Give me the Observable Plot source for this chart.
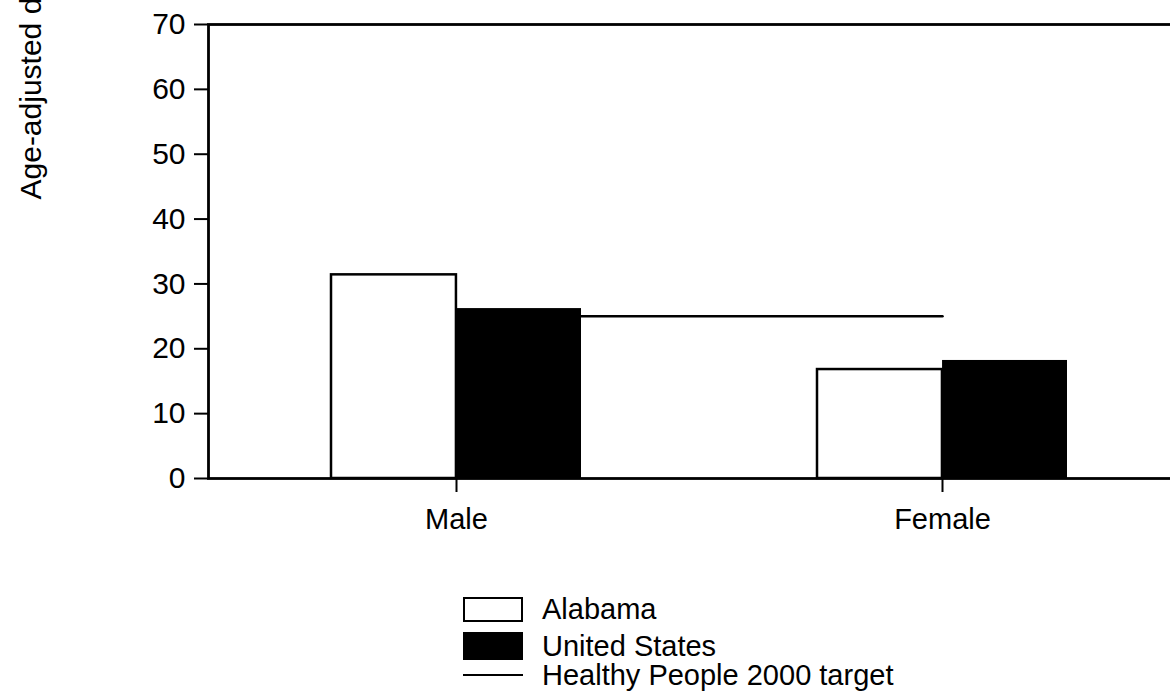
<!DOCTYPE html>
<html>
<head>
<meta charset="utf-8">
<script src="https://cdn.jsdelivr.net/npm/d3@7"></script>
<script src="https://cdn.jsdelivr.net/npm/@observablehq/plot@0.6"></script>
<style>
  html, body { margin: 0; padding: 0; background: #fff; overflow: hidden; width: 1170px; height: 691px; }
  #wrap { position: relative; width: 1170px; height: 691px; overflow: hidden; font-family: "Liberation Sans", Arial, Helvetica, sans-serif; }
  #chart svg { overflow: visible; display: block; max-width: none !important; }
  #legend { position: absolute; left: 463px; top: 0; font-size: 29px; line-height: 1; color: #000; }
  .row { position: absolute; left: 0; display: flex; align-items: center; height: 28px; white-space: nowrap; }
  .row span { line-height: 1; }
  .sw { width: 60px; box-sizing: border-box; margin-right: 19px; flex: none; }
  .sw.al { height: 25px; border: 2.5px solid #000; background: #fff; }
  .sw.us { height: 28px; background: #000; }
  .sw.tg { height: 2.5px; background: #000; }
</style>
</head>
<body>
<div id="wrap">
  <div id="chart"></div>
  <div id="legend"></div>
</div>
<script>
const categories = ["Male", "Female"];
const seriesNames = ["Alabama", "United States", "Healthy People 2000 target"];
const alabama = [31.4, 16.8];
const unitedStates = [26.2, 18.2];
const target = [25, 25];
const yTicks = [0, 10, 20, 30, 40, 50, 60, 70];
const yLabel = "Age-adjusted death rate";

const alabamaRows = categories.map((c, i) => ({sex: c, value: alabama[i]}));
const usRows = categories.map((c, i) => ({sex: c, value: unitedStates[i]}));
const targetRows = categories.map((c, i) => ({sex: c, value: target[i]}));

const W = 1189, H = 575, mL = 208, mR = 0, mT = 24, mB = 97;
const pIn = 0.486, pOut = 0.251;
const step = (W - mL - mR) / (categories.length - pIn + 2 * pOut);
const half = step * (1 - pIn) / 2;
const font = "'Liberation Sans', Arial, Helvetica, sans-serif";

const chart = Plot.plot({
  width: W,
  height: H,
  marginLeft: mL,
  marginRight: mR,
  marginTop: mT,
  marginBottom: mB,
  style: {fontFamily: font, fontSize: "30px", color: "#000", background: "#fff", maxWidth: "none"},
  x: {domain: categories, paddingInner: pIn, paddingOuter: pOut, label: null},
  y: {domain: [0, 70], label: null},
  marks: [
    Plot.lineY(targetRows, {x: "sex", y: "value", stroke: "#000", strokeWidth: 2.5}),
    Plot.barY(alabamaRows, {x: "sex", y: "value", fill: "#fff", stroke: "#000", strokeWidth: 2.5, insetRight: half}),
    Plot.barY(usRows, {x: "sex", y: "value", fill: "#000", insetLeft: half}),
    Plot.frame({stroke: "#000", strokeWidth: 2.8}),
    Plot.axisY({ticks: yTicks, tickSize: 14, tickPadding: 9, strokeWidth: 2, fontSize: 30, label: null, tickFormat: d => String(d)}),
    Plot.axisX({tickSize: 14, tickPadding: 16, strokeWidth: 2, fontSize: 29, label: null}),
    Plot.text([yLabel], {text: d => d, frameAnchor: "left", rotate: -90, textAnchor: "start", dx: -177, dy: -52, fontSize: 30, fill: "#000"})
  ]
});
document.getElementById("chart").appendChild(chart);

const legend = document.getElementById("legend");
const cls = ["al", "us", "tg"];
const rowTops = [595, 632, 661];
seriesNames.forEach((name, i) => {
  const row = document.createElement("div");
  row.className = "row";
  row.style.top = rowTops[i] + "px";
  const sw = document.createElement("div");
  sw.className = "sw " + cls[i];
  const t = document.createElement("span");
  t.textContent = name;
  row.appendChild(sw);
  row.appendChild(t);
  legend.appendChild(row);
});
</script>
</body>
</html>
